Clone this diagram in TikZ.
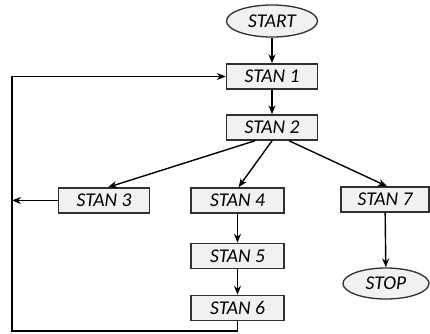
\documentclass[tikz,border=0pt]{standalone}
\usepackage{fontspec}
\setmainfont{Carlito}
\usetikzlibrary{arrows.meta}
\usetikzlibrary{shapes.geometric}

\definecolor{boxfill}{HTML}{F1F1F1}
\definecolor{boxline}{HTML}{303030}

\tikzset{
    stanbox/.style={draw=boxline,fill=boxfill,line width=1.5pt,minimum width=91pt,minimum height=25pt,
        inner sep=0pt,font=\fontsize{19.5}{22}\selectfont\itshape},
    termbox/.style={ellipse,draw=boxline,fill=boxfill,line width=1.3pt,minimum width=91pt,minimum height=32pt,
        inner sep=0pt,font=\fontsize{19.5}{22}\selectfont\itshape},
}

\begin{document}
\begin{tikzpicture}[x=1pt,y=-1pt,>={Stealth[length=9pt,width=7pt]},line width=1.4pt]
            \useasboundingbox (0,0) rectangle (430,333);
            \node[termbox] (start) at (272,21) {START};
            \node[stanbox] (s1) at (272,76.5) {STAN 1};
            \node[stanbox] (s2) at (272,127.5) {STAN 2};
            \node[stanbox] (s3) at (104,200.5) {STAN 3};
            \node[stanbox,minimum width=93pt] (s4) at (237.5,200.5) {STAN 4};
            \node[stanbox,minimum width=93pt] (s5) at (237.5,256) {STAN 5};
            \node[stanbox,minimum width=93pt] (s6) at (237.5,308) {STAN 6};
            \node[stanbox,minimum width=88pt] (s7) at (385,199.5) {STAN 7};
            \node[termbox,minimum width=86pt,minimum height=31pt] (stop) at (386,283.5) {STOP};
            \coordinate (lb) at (12,331);
            \draw[->] (start) -- (s1);
            \draw[->] (s1) -- (s2);
            \draw[->] ([xshift=-17]s2.south) -- ([xshift=4]s3.north);
            \draw[->] (s2.south) -- ([xshift=1]s4.north);
            \draw[->] ([xshift=17]s2.south) -- ([xshift=2]s7.north);
            \draw[->] (s4) -- (s5);
            \draw[->] (s5) -- (s6);
            \draw[->] (s7) -- (stop);
            \draw[->] (s3.west) -- (s3.west -| lb);
            \draw[->] (s6.south) |- (lb) |- (s1.west);
        \end{tikzpicture}
\end{document}
